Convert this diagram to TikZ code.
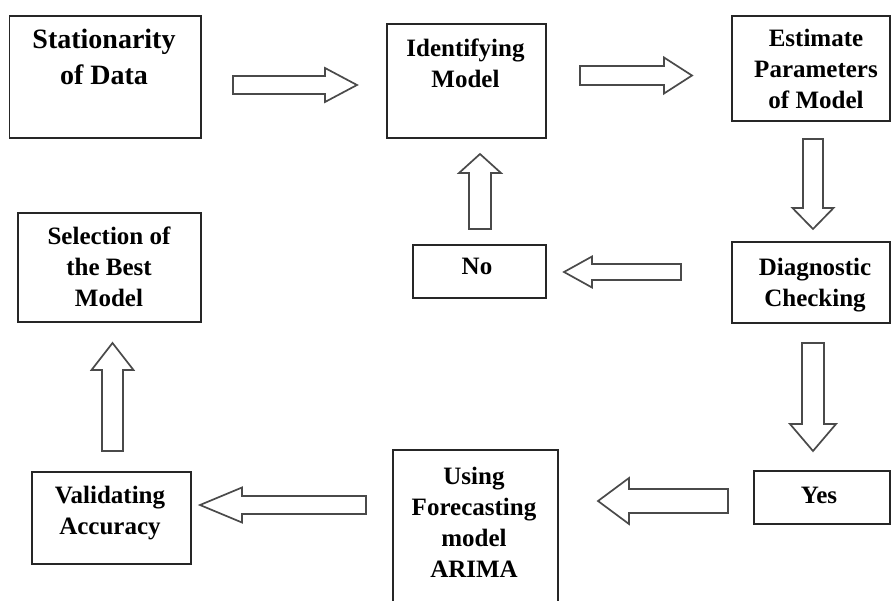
\documentclass[tikz,border=0pt]{standalone}
\usepackage{fontspec}
\setmainfont{Liberation Serif}
\definecolor{boxline}{HTML}{262626}
\definecolor{arrline}{HTML}{4A4A4A}
% horizontal block arrow: tail x, head base x, tip x, centre y, shaft half, head half
\newcommand\hblk[6]{%
  \draw[blkarrow] (#1,#4-#5) -- (#2,#4-#5) -- (#2,#4-#6) -- (#3,#4) -- (#2,#4+#6) -- (#2,#4+#5) -- (#1,#4+#5) -- cycle;}
% vertical block arrow: centre x, tail y, head base y, tip y, shaft half, head half
\newcommand\vblk[6]{%
  \draw[blkarrow] (#1-#5,#2) -- (#1-#5,#3) -- (#1-#6,#3) -- (#1,#4) -- (#1+#6,#3) -- (#1+#5,#3) -- (#1+#5,#2) -- cycle;}
\tikzset{
  box/.style={draw=boxline, line width=1.4pt, rectangle, inner sep=0pt},
  lbl/.style={anchor=north, align=center, inner sep=0pt, font=\fontsize{25}{31}\selectfont\bfseries},
  blkarrow/.style={draw=arrline, line width=1.7pt, fill=white, line join=miter}
}
\begin{document}
\begin{tikzpicture}[x=1pt, y=-1pt]
\clip (0,0) rectangle (891,600);
\fill[white] (0,0) rectangle (891,600);
% boxes
\node[box, minimum width=191.5pt, minimum height=122pt] (sd)   at (105.25,77) {};
\node[box, minimum width=159pt,   minimum height=114pt] (idm)  at (466.5,81) {};
\node[box, minimum width=158pt,   minimum height=105pt] (est)  at (811,68.5) {};
\node[box, minimum width=158pt,   minimum height=81pt]  (diag) at (811,282.5) {};
\node[box, minimum width=133pt,   minimum height=53pt]  (no)   at (479.5,271.5) {};
\node[box, minimum width=183pt,   minimum height=109pt] (sel)  at (109.5,267.5) {};
\node[box, minimum width=136pt,   minimum height=53pt]  (yes)  at (822,497.5) {};
\node[box, minimum width=165pt,   minimum height=160pt] (use)  at (475.5,530) {};
\node[box, minimum width=159pt,   minimum height=92pt]  (val)  at (111.5,518) {};
% texts
\node[lbl, font=\fontsize{28}{36}\selectfont\bfseries] (tsd) at (104,29) {Stationarity\\of Data};
\node[lbl] (tidm)  at (465.5,39) {Identifying\\Model};
\node[lbl] (test)  at (816,29) {Estimate\\Parameters\\of Model};
\node[lbl] (tdiag) at (815,257.5) {Diagnostic\\Checking};
\node[lbl] (tno)   at (477,258) {No};
\node[lbl] (tsel)  at (109,227) {Selection of\\the Best\\Model};
\node[lbl] (tyes)  at (819,487) {Yes};
\node[lbl] (tuse)  at (474,467) {Using\\Forecasting\\model\\ARIMA};
\node[lbl] (tval)  at (110,486) {Validating\\Accuracy};
% block arrows
\hblk{233}{325}{357}{85}{9}{17}
\hblk{580}{664}{692}{75.5}{9.5}{18}
\vblk{813}{139}{208}{229}{10}{20.5}
\hblk{681}{592}{564}{272}{8}{15.5}
\vblk{480}{229}{173}{154}{11}{21}
\vblk{813}{343}{424}{451}{11}{23}
\hblk{728}{629}{598}{501}{12}{23}
\hblk{366}{242}{200}{505}{9}{17.5}
\vblk{112.5}{451}{370}{343}{10.5}{21}
\end{tikzpicture}
\end{document}
